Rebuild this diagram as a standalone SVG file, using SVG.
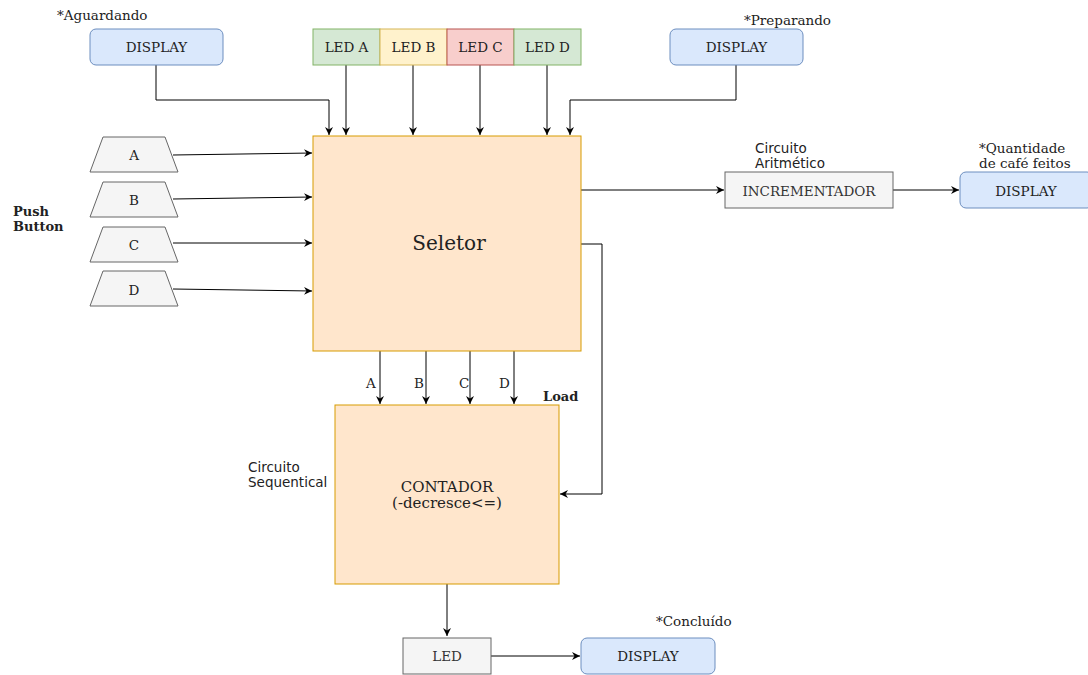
<svg xmlns="http://www.w3.org/2000/svg" width="1088" height="675" viewBox="0 0 1088 675">
<style>
text{font-family:"DejaVu Serif","Liberation Serif",serif;font-size:13.5px;fill:#222}
.c{text-anchor:middle}
.sans{font-family:"DejaVu Sans","Liberation Sans",sans-serif;font-size:13.5px}
.b{font-weight:bold;font-size:13px}
.blue{fill:#dae8fc;stroke:#6c8ebf}
.gray{fill:#f5f5f5;stroke:#666666}
.org{fill:#ffe6cc;stroke:#d79b00}
.grn{fill:#d5e8d4;stroke:#82b366}
.yel{fill:#fff2cc;stroke:#d6b656}
.red{fill:#f8cecc;stroke:#b85450}
.ln{fill:none;stroke:#000;stroke-width:1;marker-end:url(#ah)}
</style>
<defs>
<marker id="ah" markerWidth="10" markerHeight="10" refX="8" refY="5" orient="auto" markerUnits="userSpaceOnUse">
<path d="M0,1 L8,5 L0,9 L2.5,5 Z" fill="#000"/>
</marker>
</defs>
<rect width="1088" height="675" fill="#fff"/>
<g id="connectors">
<polyline class="ln" points="156,65 156,100 329,100 329,135"/>
<line class="ln" x1="346" y1="65" x2="346" y2="135"/>
<line class="ln" x1="413" y1="65" x2="413" y2="135"/>
<line class="ln" x1="480" y1="65" x2="480" y2="135"/>
<line class="ln" x1="547" y1="65" x2="547" y2="135"/>
<polyline class="ln" points="736,65 736,100 570,100 570,135"/>
<line class="ln" x1="173" y1="155" x2="312" y2="153"/>
<line class="ln" x1="173" y1="199" x2="312" y2="197"/>
<line class="ln" x1="173" y1="243" x2="312" y2="243"/>
<line class="ln" x1="173" y1="289" x2="312" y2="291"/>
<line class="ln" x1="581" y1="190" x2="724" y2="190"/>
<line class="ln" x1="893" y1="190" x2="959" y2="190"/>
<polyline class="ln" points="581,244 602,244 602,494 560,494"/>
<line class="ln" x1="380" y1="351" x2="380" y2="404"/>
<line class="ln" x1="426" y1="351" x2="426" y2="404"/>
<line class="ln" x1="470" y1="351" x2="470" y2="404"/>
<line class="ln" x1="514" y1="351" x2="514" y2="404"/>
<line class="ln" x1="447" y1="584" x2="447" y2="636"/>
<line class="ln" x1="491" y1="656" x2="580" y2="656"/>
</g>
<g id="disp-aguardando">
<rect class="blue" x="90" y="29" width="133" height="36" rx="6"/>
<text class="c" x="156.5" y="52">DISPLAY</text>
<text x="57" y="20">*Aguardando</text>
</g>
<g id="led-a"><rect class="grn" x="313" y="29" width="67" height="36"/><text class="c" x="346.5" y="52">LED A</text></g>
<g id="led-b"><rect class="yel" x="380" y="29" width="67" height="36"/><text class="c" x="413.5" y="52">LED B</text></g>
<g id="led-c"><rect class="red" x="447" y="29" width="67" height="36"/><text class="c" x="480.5" y="52">LED C</text></g>
<g id="led-d"><rect class="grn" x="514" y="29" width="67" height="36"/><text class="c" x="547.5" y="52">LED D</text></g>
<g id="disp-preparando">
<rect class="blue" x="670" y="29" width="133" height="36" rx="6"/>
<text class="c" x="736.5" y="52">DISPLAY</text>
<text x="744" y="25">*Preparando</text>
</g>
<g id="seletor">
<rect class="org" x="313" y="136" width="268" height="215"/>
<text class="c" x="449" y="250" style="font-size:20px">Seletor</text>
</g>
<g id="pb-label"><text class="b" x="13" y="216">Push</text><text class="b" x="13" y="231">Button</text></g>
<g id="btn-a"><polygon class="gray" points="103,137 165,137 178,172 90,172"/><text class="c" x="134" y="160">A</text></g>
<g id="btn-b"><polygon class="gray" points="103,182 165,182 178,217 90,217"/><text class="c" x="134" y="205">B</text></g>
<g id="btn-c"><polygon class="gray" points="103,227 165,227 178,262 90,262"/><text class="c" x="134" y="250">C</text></g>
<g id="btn-d"><polygon class="gray" points="103,271 165,271 178,306 90,306"/><text class="c" x="134" y="295">D</text></g>
<g id="incrementador">
<rect class="gray" x="725" y="172" width="168" height="36"/>
<text class="c" x="809" y="196" style="fill:#333">INCREMENTADOR</text>
<text class="sans" x="755" y="153">Circuito</text>
<text class="sans" x="755" y="168">Aritmético</text>
</g>
<g id="disp-quantidade">
<rect class="blue" x="960" y="172" width="133" height="36" rx="6"/>
<text class="c" x="1026" y="196">DISPLAY</text>
<text x="979" y="153">*Quantidade</text>
<text x="979" y="168">de café feitos</text>
</g>
<g id="labels">
<text x="366" y="388">A</text>
<text x="414" y="388">B</text>
<text x="459" y="388">C</text>
<text x="499" y="388">D</text>
<text class="b" x="543" y="401">Load</text>
</g>
<g id="contador">
<rect class="org" x="335" y="405" width="224" height="179"/>
<text class="c" x="447" y="492" style="font-size:15px">CONTADOR</text>
<text class="c" x="447" y="508" style="font-size:15px">(-decresce&lt;=)</text>
<text class="sans" x="248" y="472">Circuito</text>
<text class="sans" x="248" y="487">Sequentical</text>
</g>
<g id="led">
<rect class="gray" x="403" y="638" width="88" height="36"/>
<text class="c" x="447" y="661" style="fill:#333">LED</text>
</g>
<g id="disp-concluido">
<rect class="blue" x="581" y="638" width="134" height="36" rx="6"/>
<text class="c" x="648" y="661">DISPLAY</text>
<text x="656" y="626">*Concluído</text>
</g>
</svg>
